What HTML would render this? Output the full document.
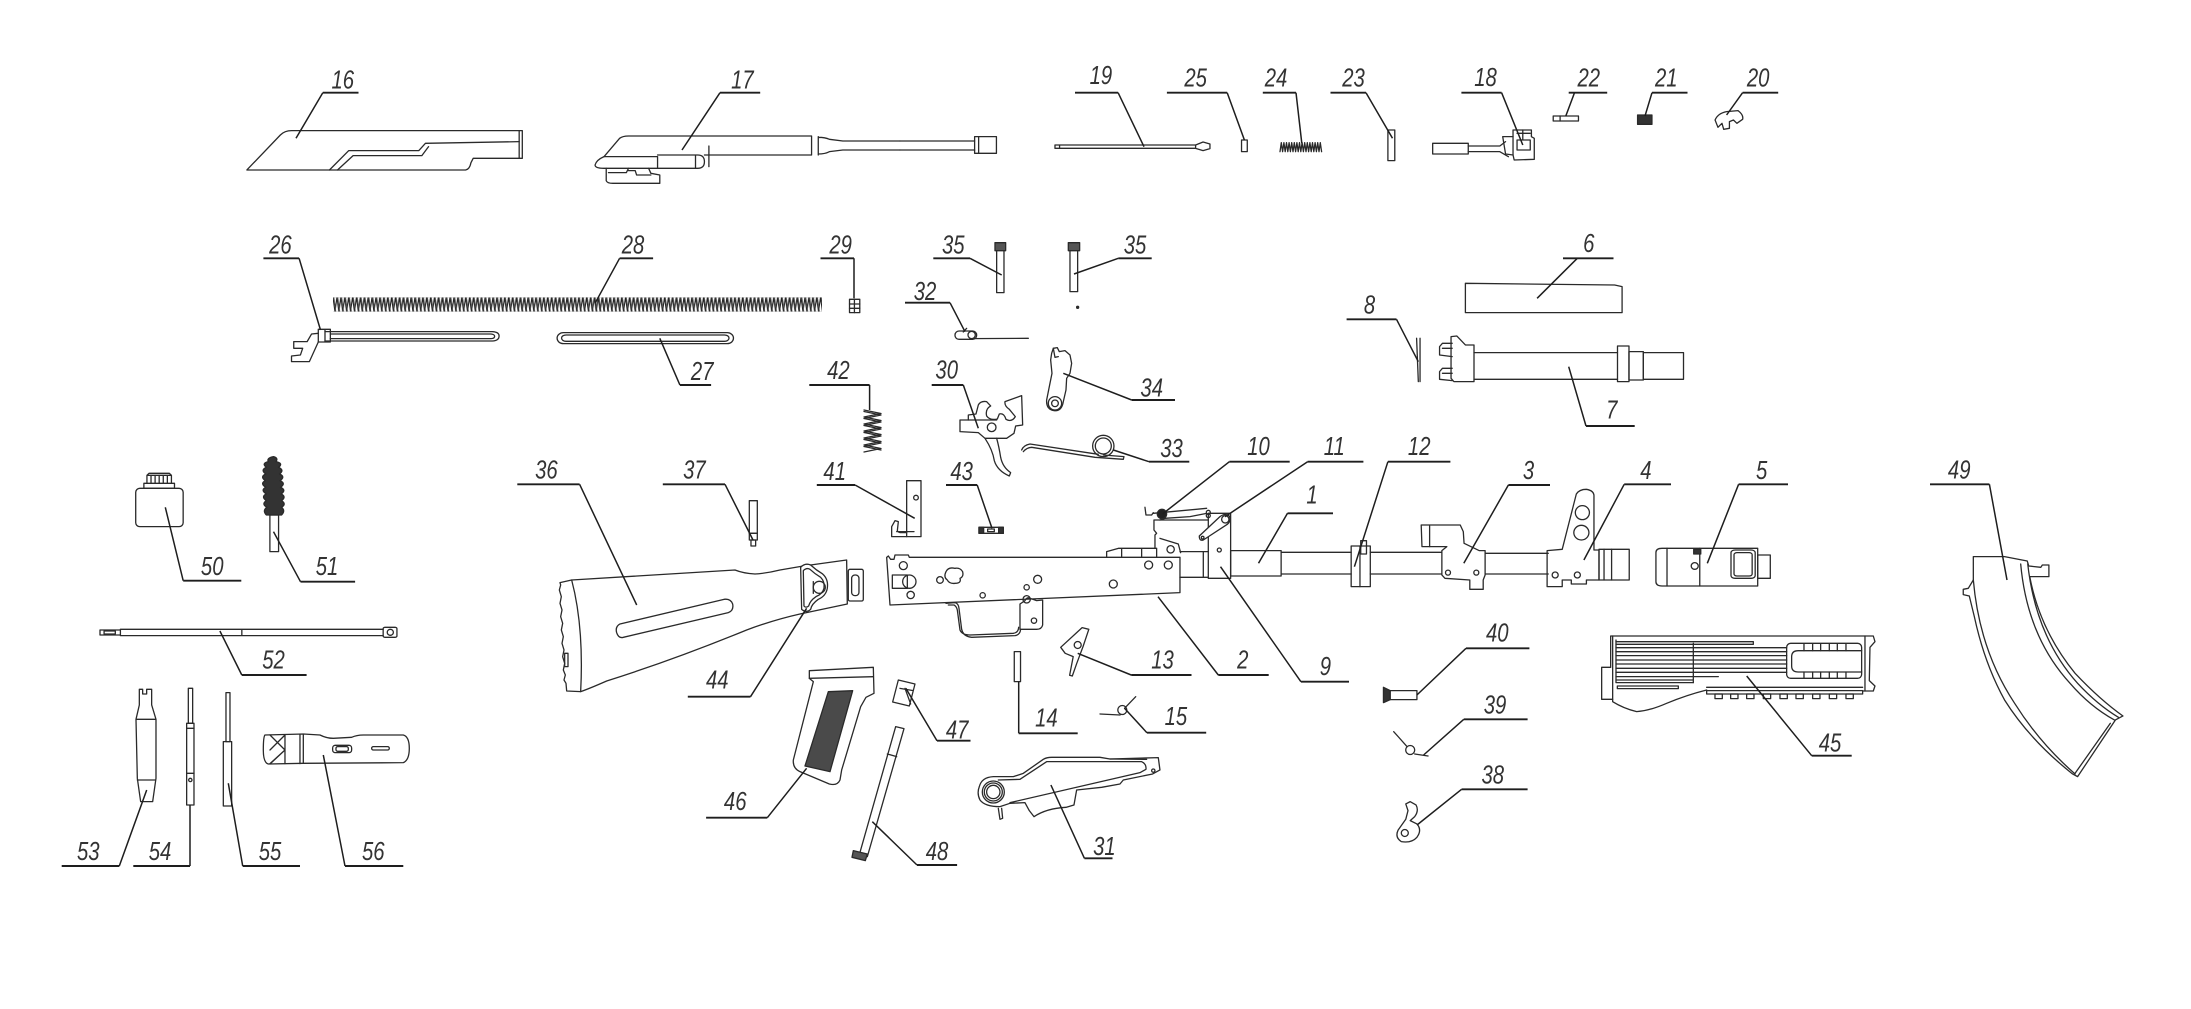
<!DOCTYPE html>
<html><head><meta charset="utf-8"><style>
html,body{margin:0;padding:0;background:#fff;}
svg{display:block;}
.p{fill:none;stroke:#2a2a2a;stroke-width:1.3px;stroke-linejoin:round;stroke-linecap:round;}
.p *{vector-effect:non-scaling-stroke;}
.ld{fill:none;stroke:#1e1e1e;stroke-width:1.5px;}
.u{fill:none;stroke:#1e1e1e;stroke-width:1.9px;}
.t text{font-family:"Liberation Sans",sans-serif;font-style:italic;font-size:26px;fill:#333;text-anchor:middle;}
</style></head><body>
<svg width="2191" height="1009" viewBox="0 0 2191 1009" xmlns="http://www.w3.org/2000/svg">
<defs>
<pattern id="coil" x="333" y="297.3" width="3.9" height="14.4" patternUnits="userSpaceOnUse">
<path d="M0,0 L1.95,14.4 L3.9,0" fill="none" stroke="#222" stroke-width="1.1"/>
<path d="M0.9,0 L2.85,14.4" fill="none" stroke="#444" stroke-width="0.8"/>
</pattern>
</defs>
<rect width="2191" height="1009" fill="#fff"/>

<g class="p" transform="matrix(0.4464,0,0,0.3333,200,40)">
<path d="M105,390 L180,285 Q190,272 205,272 L722,272 L722,355 L612,355 L607,368 Q604,388 595,390 Z"/>
<path d="M715,272 L715,355"/>
<path d="M290,390 L333,332 L490,332 L505,310 L715,305"/>
<path d="M308,390 L343,347 L497,347 L512,320"/>
<path d="M905,350 L940,295 Q947,288 960,288 L1370,288 L1370,345 L1130,345"/>
<path d="M905,350 L1025,350 L1025,385 L905,385 Q885,385 885,375 Q888,360 905,350 Z"/>
<path d="M1025,345 L1115,345 Q1130,345 1130,365 Q1130,385 1115,385 L1025,385 M1110,345 L1110,385"/>
<path d="M910,385 L910,422 Q912,430 925,430 L1030,430 L1030,405 L1010,400 L1005,385"/>
<path d="M915,398 L955,398 L960,385 M960,392 L975,392 L978,405 L1010,405"/>
<path d="M1140,318 L1140,380"/>
<path d="M1385,290 L1385,345 M1385,292 Q1400,292 1410,298 L1440,303 L1568,303 M1385,342 Q1400,342 1410,335 L1440,330 L1568,330"/>
<path d="M280,875 L655,875 Q670,876 670,888 Q670,902 655,903 L280,903"/>
<path d="M292,882 L652,882 Q660,883 660,889 Q660,896 652,896 L292,896"/>
<path d="M265,868 L292,868 L292,906 L265,906 Z M280,868 L280,906"/>
<path d="M265,880 L250,882 L240,905 L210,905 L210,925 L230,925 L225,945 L205,948 L205,965 L245,965 L265,906"/>
<rect x="800" y="878" width="395" height="33" rx="14" ry="16"/>
<rect x="810" y="885" width="375" height="19" rx="10" ry="9"/>
<rect x="1455" y="778" width="23" height="40"/>
<path d="M1455,792 L1478,792 M1455,805 L1478,805 M1466,778 L1466,818"/>
</g>

<g class="p" transform="matrix(0.574,0,0,0.3333,900,40)">
<path d="M0,303 L130,303 M0,330 L130,330"/>
<rect x="130" y="290" width="38" height="50"/>
<path d="M137,290 L137,340"/>
<path d="M270,315 L515,315 L528,306 L540,312 L540,326 L528,332 L515,325 L270,325 Z M278,315 L278,325 M515,315 L515,325"/>
<rect x="595" y="300" width="10" height="35"/>
<rect x="850" y="270" width="12" height="92"/>
<rect x="928" y="310" width="62" height="32"/>
<path d="M990,318 L1045,318 L1055,305 M990,335 L1045,335 L1060,350"/>
<path d="M1050,290 L1068,290 L1068,270 L1100,270 L1100,290 L1105,295 L1105,358 L1070,360 L1068,345 L1055,342 Z"/>
<path d="M1068,290 L1068,345 M1075,280 L1098,280 M1075,300 L1098,300 L1098,330 L1075,330 Z M1085,270 L1085,300"/>
<rect x="1138" y="228" width="44" height="15"/>
<path d="M1150,228 L1150,243"/>
<rect x="1285" y="225" width="25" height="28" fill="#333"/>
<path d="M1425,262 L1420,240 Q1425,220 1440,215 L1460,212 Q1470,225 1468,238 L1458,250 L1452,240 L1445,245 L1445,265 L1435,268 L1432,250 Z"/>
<path d="M985,730 L1245,735 L1258,740 L1258,818 L985,818 Z"/>
<path d="M900,895 L903,1025 M906,895 L906,1025"/>
<path d="M1000,938 L1250,938 M1000,1018 L1250,1018"/>
<rect x="1250" y="918" width="20" height="107"/>
<rect x="1270" y="935" width="25" height="85"/>
<rect x="1295" y="938" width="70" height="80"/>
<path d="M960,890 L970,888 L985,915 L1000,915 L1000,1025 L965,1025 L960,1015 Z"/>
<path d="M962,910 L945,910 L940,920 L940,945 L962,950 M962,985 L945,985 L940,995 L940,1018 L962,1022 M945,925 L962,925 M945,1000 L962,1000"/>
</g>

<g class="p" transform="matrix(0.3333,0,0,0.3333,850,220)">
<rect x="440" y="90" width="22" height="128"/>
<rect x="435" y="68" width="32" height="24" fill="#555"/>
<rect x="660" y="90" width="23" height="125"/>
<rect x="655" y="68" width="34" height="24" fill="#555"/>
<circle cx="683" cy="262" r="3" fill="#333"/>
<rect x="315" y="333" width="65" height="25" rx="12"/>
<circle cx="365" cy="345" r="11"/>
<path d="M360,356 L535,355 M340,336 L350,325"/>
<path d="M610,385 L622,383 L628,395 L645,392 L660,405 L665,430 L660,460 L650,475 L648,510 L640,545 Q635,575 612,572 Q588,568 590,540 L598,500 L606,460 L602,420 L605,400 Z"/>
<circle cx="615" cy="550" r="20"/><circle cx="615" cy="550" r="10"/>
<path d="M610,385 L615,412 L625,410"/>
<path d="M330,600 L355,600 L355,585 L378,582 L385,555 Q392,542 410,545 L422,558 Q405,568 410,588 Q420,602 442,597 L448,582 Q462,578 468,598 Q485,608 496,590 L478,568 Q463,558 465,545 L515,527 L518,615 L497,618 L492,640 L470,655 L405,655 L385,638 L330,635 Z"/>
<path d="M405,655 Q428,690 433,722 Q442,752 478,768 L482,758 Q458,742 452,712 Q447,680 440,655"/>
<circle cx="425" cy="622" r="13"/>
<path d="M355,600 L440,600"/>
<path d="M515,690 Q520,676 540,672 L745,703 M520,695 Q530,683 545,682 L735,712 L820,718 L822,710 L760,705"/>
<circle cx="760" cy="678" r="32"/><circle cx="760" cy="678" r="24"/>
</g>

<g class="p" transform="matrix(0.3333,0,0,0.3333,860,470)">
<rect x="140" y="32" width="43" height="168"/>
<circle cx="168" cy="83" r="7"/>
<path d="M140,200 L95,200 L95,170 L105,152 L115,155 L112,182 Q115,188 125,188 L140,188 M110,185 L162,185"/>
<rect x="357" y="172" width="73" height="18"/>
<rect x="357" y="172" width="14" height="18" fill="#333"/>
<rect x="416" y="172" width="14" height="18" fill="#333"/>
<rect x="383" y="177" width="20" height="8"/>
<path d="M80,262 L85,258 L92,268 L102,268 L105,255 L145,255 L148,262 L960,262 L960,368 L90,405 Z"/>
<path d="M740,262 L740,245 L775,235 L890,235 L890,262 M785,235 L785,262 M845,235 L845,262"/>
<path d="M885,235 L885,195 L890,190 L882,180 L882,150 L1045,150 M900,205 L955,222 L962,248"/>
<path d="M855,112 L858,135 L875,135 L880,128 M880,130 L1040,115 M900,150 L915,145 L990,140 L1040,130"/>
<circle cx="906" cy="132" r="14" fill="#222"/>
<circle cx="1045" cy="127" r="6"/><circle cx="1045" cy="137" r="6"/>
<circle cx="130" cy="287" r="12"/>
<rect x="97" y="315" width="45" height="40"/>
<circle cx="148" cy="335" r="20"/>
<circle cx="152" cy="375" r="11"/>
<circle cx="240" cy="330" r="10"/>
<path d="M258,305 Q265,290 285,295 Q300,292 308,305 Q312,320 300,325 Q305,340 285,340 Q268,342 262,330 Q250,322 258,305 Z"/>
<circle cx="533" cy="328" r="12"/><circle cx="500" cy="352" r="8"/><circle cx="368" cy="376" r="8"/>
<circle cx="760" cy="342" r="12"/><circle cx="866" cy="285" r="12"/><circle cx="925" cy="285" r="12"/><circle cx="932" cy="238" r="11"/>
<path d="M258,400 L285,398 Q295,400 297,415 L305,478 Q310,500 335,502 L465,497 Q480,495 482,478 M265,405 L282,405 Q290,410 292,420 L300,480 Q306,495 330,495 L460,490 Q475,488 476,472"/>
<path d="M480,475 L480,402 L495,392 Q500,380 510,385 L530,392 L548,390 L548,465 Q545,478 530,478 L480,478 Z"/>
<circle cx="522" cy="452" r="8"/><circle cx="500" cy="388" r="11"/>
<path d="M960,245 L1045,245 M960,322 L1045,322 M1030,245 L1030,322"/>
<rect x="1045" y="130" width="67" height="195"/>
<circle cx="1078" cy="240" r="6"/>
<path d="M1018,198 L1080,140 Q1095,128 1108,138 Q1115,152 1102,163 L1030,210 Q1018,214 1018,198 Z" fill="#fff"/>
<circle cx="1096" cy="148" r="11"/><circle cx="1028" cy="203" r="4"/>
</g>

<g class="p" transform="matrix(0.4464,0,0,0.3333,850,400)">
<path d="M472,742 L520,683 L535,688 L522,740 L508,790 L498,828 L492,826 L500,770 L482,760 L472,742 Z"/>
<rect x="368" y="755" width="14" height="90"/>
<path d="M560,942 L605,945 M615,925 L640,890"/>
<rect x="1210" y="872" width="60" height="27"/>
<path d="M1195,862 L1210,872 L1210,899 L1195,908 Z" fill="#333"/>
<path d="M1218,995 L1248,1040 M1265,1062 L1295,1068"/>
<path d="M1255,1205 L1268,1215 Q1275,1232 1265,1250 L1255,1262 L1270,1272 Q1282,1290 1270,1312 Q1258,1330 1235,1325 Q1220,1312 1228,1290 L1245,1258 L1250,1232 L1245,1212 Z"/>
</g>
<g class="p">
<circle cx="1077.7" cy="645" r="3.5"/>
<circle cx="1122.3" cy="710" r="4.5"/>
<circle cx="1410.2" cy="750" r="4.5"/>
<circle cx="1404.8" cy="833" r="3.5"/>
</g>

<g class="p" transform="matrix(0.3827,0,0,0.3333,1200,500)">
<rect x="80" y="152" width="132" height="76"/>
<path d="M212,157 L395,157 M212,222 L395,222"/>
<rect x="395" y="138" width="50" height="122"/>
<path d="M418,138 L418,260"/>
<rect x="420" y="122" width="15" height="40"/>
<path d="M445,157 L632,157 M445,222 L632,222"/>
<path d="M632,152 L632,225 L640,235 L705,240 L705,268 L740,268 L740,240 L745,225 L745,152 L730,152 L690,130 L688,95 L680,75 L578,75 L580,140 L645,140 L632,152 Z"/>
<path d="M600,78 L600,140"/>
<ellipse cx="648" cy="218" rx="6.5" ry="7.5"/><ellipse cx="722" cy="218" rx="6.5" ry="7.5"/>
<path d="M745,160 L910,160 M745,222 L910,222"/>
</g>

<g class="p" transform="matrix(0.5038,0,0,0.3333,1400,430)">
<path d="M292,362 L322,358 L350,192 Q356,178 370,178 Q386,182 385,200 L385,360 L395,360 L395,450 L370,450 L370,462 L340,462 L340,450 L322,450 L322,470 L292,470 Z"/>
<ellipse cx="362" cy="248" rx="14" ry="21"/><ellipse cx="360" cy="308" rx="15" ry="22"/>
<ellipse cx="308" cy="435" rx="6" ry="9"/><ellipse cx="352" cy="435" rx="6" ry="9"/>
<rect x="395" y="358" width="60" height="92"/>
<path d="M405,358 L405,450 M420,358 L420,450"/>
<path d="M520,355 L710,355 L710,468 L520,468 Q508,468 508,455 L508,368 Q508,355 520,355 Z"/>
<path d="M595,355 L595,468 M530,355 L530,468"/>
<rect x="710" y="375" width="25" height="70"/>
<rect x="657" y="360" width="48" height="85" rx="8"/>
<rect x="663" y="368" width="36" height="70" rx="6"/>
<rect x="583" y="358" width="14" height="14" fill="#333"/>
<ellipse cx="585" cy="408" rx="7" ry="10"/>
<path d="M1138,380 L1200,380 L1245,393 L1248,408 L1272,412 L1275,405 L1288,405 L1288,440 L1250,440 Q1270,600 1340,730 Q1390,810 1435,858 L1420,870 L1345,1040 L1335,1032 Q1250,930 1200,810 Q1160,700 1140,560 L1130,498 L1118,494 L1118,478 L1128,475 L1138,450 Z"/>
<path d="M1232,402 Q1245,620 1330,760 Q1370,830 1418,870"/>
<path d="M1246,402 Q1262,620 1345,760 Q1385,825 1426,862"/>
<path d="M1410,880 L1340,1030"/>
<path d="M1138,450 Q1150,660 1220,820 Q1270,940 1340,1032"/>
</g>

<g class="p" transform="matrix(0.3333,0,0,0.3333,540,480)">
<path d="M95,300 L585,270 Q610,280 645,282 Q680,280 720,270 L790,258 L920,240 L922,372 L780,402 Q700,420 620,450 Q400,540 200,603 Q150,625 122,635 L80,633 L78,610 L72,600 L76,585 L70,570 L74,550 L68,530 L72,510 L66,490 L70,470 L64,450 L68,430 L62,410 L66,390 L60,370 L64,350 L58,330 L62,315 L60,308 Z"/>
<path d="M95,300 Q132,440 122,635"/>
<path d="M250,472 L565,398 Q582,392 578,372 Q572,355 552,358 L240,432 Q225,440 230,458 Q236,476 250,472 Z"/>
<path d="M782,262 Q795,248 812,255 Q828,270 848,282 Q866,298 862,325 Q858,348 835,358 Q815,372 812,388 Q800,400 785,388 Z" fill="#fff"/>
<path d="M790,272 Q800,262 810,268 Q825,282 842,292 Q855,305 852,325 Q848,342 828,350 Q810,362 806,378 Q798,385 792,378 Z"/>
<ellipse cx="838" cy="322" rx="18" ry="18"/>
<path d="M820,305 L820,340"/>
<rect x="925" y="268" width="45" height="95" rx="5"/>
<rect x="935" y="285" width="22" height="62" rx="10"/>
<rect x="74" y="520" width="10" height="40"/>
<rect x="628" y="62" width="24" height="98"/>
<rect x="628" y="160" width="24" height="20"/>
<rect x="633" y="180" width="14" height="18"/>
</g>

<g class="p" transform="matrix(0.3333,0,0,0.3333,780,660)">
<path d="M88,32 L280,22 L282,100 L258,112 L242,140 L185,330 L180,360 Q172,378 148,372 L60,335 Q38,325 40,300 L100,65 L88,55 Z"/>
<path d="M88,55 L280,50"/>
<path d="M145,95 L218,92 L150,335 L75,318 Z" fill="#4a4a4a"/>
<path d="M355,60 L405,72 L388,138 L338,126 Z M360,85 L400,92 M375,85 L392,132"/>
<path d="M347,200 L372,206 L262,590 L238,584 Z M322,282 L350,290"/>
<path d="M220,572 L262,582 L256,602 L216,592 Z" fill="#555"/>
<path d="M598,380 Q605,352 640,350 L700,350 L730,340 L790,298 Q800,292 815,292 L960,292 L990,297 L1135,293 L1140,330 L1118,342 L1030,360 L1020,372 L965,382 L890,390 L882,435 L858,442 Q800,445 762,470 L748,452 L735,428 L690,430 L660,440 Q615,440 600,420 Q590,400 598,380 Z"/>
<path d="M655,360 L720,358 L800,305 L1085,305 Q1100,312 1098,328 L1080,338 L690,428"/>
<path d="M990,297 L1100,298"/>
<circle cx="640" cy="396" r="20"/><circle cx="640" cy="396" r="27"/><circle cx="640" cy="396" r="33"/>
<circle cx="1120" cy="332" r="5"/>
<path d="M655,445 L660,478 L668,475 L665,445"/>
</g>

<g class="p" transform="matrix(0.3333,0,0,0.3333,1580,610)">
<path d="M92,78 L880,78 L885,95 L870,112 L868,212 L885,228 L880,243 L848,243 L848,252 L380,252 L380,240 Q320,255 260,280 Q210,302 170,305 Q130,295 98,275 L98,268 L65,268 L65,172 L92,172 Z"/>
<path d="M98,78 L98,268 M855,78 L855,243 M108,90 L108,218 L340,218"/>
<path d="M108,95 L520,95 L520,103 L108,103 M108,113 L620,113 M108,125 L620,125 M108,137 L620,137 M108,150 L620,150 M108,162 L620,162 M108,175 L620,175 M108,187 L620,187 M108,200 L415,200 M108,210 L340,210 M340,100 L340,218"/>
<rect x="620" y="100" width="225" height="105" rx="12"/>
<path d="M845,122 L655,122 Q635,122 635,140 L635,168 Q635,186 655,186 L845,186"/>
<path d="M672,102 L672,122 M698,102 L698,122 M722,102 L722,122 M748,102 L748,122 M772,102 L772,122 M798,102 L798,122 M672,186 L672,204 M698,186 L698,204 M722,186 L722,204 M748,186 L748,204 M772,186 L772,204 M798,186 L798,204"/>
<path d="M380,232 L848,232 M380,242 L848,242"/>
<rect x="405" y="252" width="22" height="14"/><rect x="452" y="252" width="22" height="14"/><rect x="500" y="252" width="22" height="14"/>
<rect x="550" y="252" width="22" height="14"/><rect x="600" y="252" width="22" height="14"/><rect x="648" y="252" width="22" height="14"/>
<rect x="698" y="252" width="22" height="14"/><rect x="748" y="252" width="22" height="14"/><rect x="798" y="252" width="22" height="14"/>
<rect x="112" y="228" width="183" height="8"/>
</g>

<g class="p" transform="matrix(0.3333,0,0,0.3333,50,640)">
<path d="M268,148 L278,148 L278,162 L290,162 L290,148 L305,148 L305,195 L318,238 L318,415 L308,485 L272,485 L262,415 L258,238 L268,195 Z M258,238 L318,238 M262,420 L316,420"/>
<rect x="415" y="145" width="13" height="105"/>
<rect x="410" y="250" width="22" height="245"/>
<path d="M410,265 L432,265 M410,400 L432,400"/>
<circle cx="421" cy="420" r="5"/>
<rect x="528" y="158" width="12" height="147"/>
<rect x="520" y="305" width="25" height="193"/>
<path d="M645,285 L760,282 L810,285 Q830,295 850,295 L905,292 Q920,285 940,285 L1060,285 Q1078,290 1078,325 Q1078,360 1060,368 L760,370 L655,372 Q640,368 640,330 Q640,290 645,285 Z"/>
<path d="M705,284 L705,371 M750,283 L750,371 M760,283 L760,370 M660,285 L705,330 L660,371 M660,330 L705,285 M660,372 L705,330"/>
<rect x="848" y="316" width="57" height="22" rx="8"/>
<rect x="858" y="320" width="37" height="14" rx="5"/>
<rect x="965" y="320" width="53" height="10" rx="5"/>
</g>

<g class="p" transform="matrix(0.5102,0,0,0.3333,100,430)">
<rect x="70" y="175" width="93" height="115" rx="8" ry="12"/>
<rect x="86" y="160" width="60" height="15"/>
<path d="M92,160 L92,136 L140,136 L140,160 M100,136 L100,160 M108,136 L108,160 M116,136 L116,160 M124,136 L124,160 M132,136 L132,160 M92,136 L96,130 L136,130 L140,136"/>
<path d="M340,80 Q350,84 345,95 Q360,100 350,112 Q362,120 352,132 Q364,140 353,152 Q365,160 354,172 Q366,180 355,192 Q366,200 356,212 Q366,222 356,232 Q364,242 356,255 L326,255 Q318,242 327,232 Q316,222 326,212 Q315,200 326,192 Q314,180 325,172 Q313,160 324,152 Q313,140 325,132 Q314,120 326,112 Q316,100 330,95 Q326,84 340,80 Z" fill="#333"/>
<rect x="333" y="255" width="17" height="110"/>
<path d="M40,598 L555,598 M40,617 L555,617 M278,598 L278,617"/>
<rect x="0" y="600" width="40" height="15"/>
<rect x="8" y="603" width="22" height="9"/>
<rect x="555" y="592" width="27" height="30" rx="4"/>
<ellipse cx="569" cy="607" rx="6" ry="9"/>
</g>

<rect x="333" y="297.3" width="489" height="14.4" fill="url(#coil)"/>
<g class="p">
<path d="M1280,151.7 l1.3,-9 1.3,9 1.3,-9 1.3,9 1.3,-9 1.3,9 1.3,-9 1.3,9 1.3,-9 1.3,9 1.3,-9 1.3,9 1.3,-9 1.3,9 1.3,-9 1.3,9 1.3,-9 1.3,9 1.3,-9 1.3,9 1.3,-9 1.3,9 1.3,-9 1.3,9 1.3,-9 1.3,9 1.3,-9 1.3,9 1.3,-9 1.3,9 1.3,-9 1.3,9"/>
<path d="M864,410 L881,413.5 L864,417 L881,420.5 L864,424 L881,427.5 L864,431 L881,434.5 L864,438 L881,441.5 L864,445 L881,448.5 L864,452"/>
<path d="M864,411.5 L881,415 L864,418.5 L881,422 L864,425.5 L881,429 L864,432.5 L881,436 L864,439.5 L881,443 L864,446.5 L881,450"/>
</g>

<g class="u">
<path d="M322.8,92.7H358.5 M720,92.7H760.2 M1075,92.7H1118.1 M1166.9,92.7H1227.2 M1262.8,92.7H1296 M1330.5,92.7H1366 M1461.4,92.7H1501.6 M1568.7,92.7H1607.2 M1652,92.7H1687.5 M1742.6,92.7H1778.2"/>
<path d="M263.4,258.3H299.1 M619.6,258.3H653.1 M820.5,258.3H854 M933.3,258.3H970 M1118.3,258.3H1151.7 M1563,258.3H1613.5"/>
<path d="M905,302.7H950 M1346.6,319.3H1396.5 M679.9,385H711.1 M809.3,385H869.6 M931.7,385H963.3 M1131.7,400H1175 M1586,426H1634.7"/>
<path d="M1149,461.7H1189.3 M1229.4,461.7H1289.7 M1307.6,461.7H1363.4 M1387.9,461.7H1450.4 M1287.5,513.3H1333 M1508.4,485H1550 M1624.2,484.3H1671 M1738.6,484.3H1788 M1930,484.3H1989.4"/>
<path d="M946,485H977.2 M816.8,485H855.1 M517.3,484.3H579.6 M662.8,484.3H725 M183.2,580.7H241.3 M300.5,581.7H355.1 M241.8,675H306.6 M687.8,696.7H750.5"/>
<path d="M1218.3,675H1268.7 M1300.9,681.7H1349 M1131.2,675H1191.5 M1466,648.3H1529.4 M1018.7,733.3H1077.7 M1146.9,732.7H1206.2 M1463.8,719.3H1527.6 M937,740.7H970.5 M1811.7,755.7H1851.7 M1461.6,789.3H1527.6"/>
<path d="M706.1,817.7H767.3 M1084.4,858.3H1112.5 M917,865H957.1 M61.7,866H119.3 M133.3,866H190 M242.7,866H300 M345,866H403.3"/>
</g>

<g class="ld">
<path d="M322.8,92.7L296,138.3 M720,92.7L682,150 M1118.1,92.7L1144,146.7 M1227.2,92.7L1244.4,140 M1296,92.7L1301.8,143.3 M1366,92.7L1392.5,138.3 M1501.6,92.7L1522.8,145 M1574.5,92.7L1565.8,116 M1652,92.7L1645,116 M1742.6,92.7L1726.6,115"/>
<path d="M299.1,258.3L320.5,330 M619.6,258.3L595,303.3 M854,258.3L854,298.3 M970,258.3L1001.7,275 M1118.3,258.3L1074,274 M1577.3,258.3L1537.1,298.3"/>
<path d="M950,302.7L965,331.7 M1396.5,319.3L1418.3,361.7 M679.9,385L659.8,338.3 M869.6,385L869.6,410 M963.3,385L978.3,428.3 M1131.7,400L1063.3,373.3 M1586,426L1568.7,366.7"/>
<path d="M1149,461.7L1113.4,450 M1229.4,461.7L1162.5,514 M1307.6,461.7L1225,516.7 M1387.9,461.7L1354.4,566.7 M1287.5,513.3L1258.5,563.3 M1508.4,485L1463.8,563.3 M1624.2,484.3L1583.9,560 M1738.6,484.3L1707.3,563.3 M1989.4,484.3L2007,580"/>
<path d="M977.2,485L992,528.3 M855.1,485L914.7,518.3 M579.6,484.3L636.7,605 M725,484.3L753,540 M183.2,580.7L165.3,507.3 M300.5,581.7L273.5,531.7 M241.8,675L219.9,631 M750.5,696.7L806.6,608.3"/>
<path d="M1218.3,675L1158,596.7 M1300.9,681.7L1220.5,566.7 M1131.2,675L1077.7,653.3 M1466,648.3L1416.9,695 M1018.7,733.3L1018.7,681.7 M1146.9,732.7L1124.5,708.3 M1463.8,719.3L1423.6,755 M937,740.7L905.8,688.3 M1811.7,755.7L1746.7,676 M1461.6,789.3L1417,825"/>
<path d="M767.3,817.7L806.6,768.3 M1084.4,858.3L1050.9,785 M917,865L872.3,821.7 M119.3,866L146.7,790 M190,866L190,805 M242.7,866L228.3,783.3 M345,866L323.3,755"/>
</g>

<g class="t">
<text transform="translate(342.8,88.3) scale(.78,1)">16</text>
<text transform="translate(742.4,88.3) scale(.78,1)">17</text>
<text transform="translate(1100.9,84) scale(.78,1)">19</text>
<text transform="translate(1195.6,86.7) scale(.78,1)">25</text>
<text transform="translate(1276,86.7) scale(.78,1)">24</text>
<text transform="translate(1353.5,86.7) scale(.78,1)">23</text>
<text transform="translate(1485.5,86) scale(.78,1)">18</text>
<text transform="translate(1588.8,86.7) scale(.78,1)">22</text>
<text transform="translate(1666.3,86.7) scale(.78,1)">21</text>
<text transform="translate(1758.1,86.7) scale(.78,1)">20</text>
<text transform="translate(280.4,253.3) scale(.78,1)">26</text>
<text transform="translate(633,253.3) scale(.78,1)">28</text>
<text transform="translate(840.6,253.3) scale(.78,1)">29</text>
<text transform="translate(953.3,253.3) scale(.78,1)">35</text>
<text transform="translate(1135,253.3) scale(.78,1)">35</text>
<text transform="translate(1588.8,252) scale(.78,1)">6</text>
<text transform="translate(925,300) scale(.78,1)">32</text>
<text transform="translate(1369.5,313.3) scale(.78,1)">8</text>
<text transform="translate(702.2,380) scale(.78,1)">27</text>
<text transform="translate(838.4,379) scale(.78,1)">42</text>
<text transform="translate(1151.7,396.7) scale(.78,1)">34</text>
<text transform="translate(946.7,378.3) scale(.78,1)">30</text>
<text transform="translate(1611.8,418.3) scale(.78,1)">7</text>
<text transform="translate(1171.5,457) scale(.78,1)">33</text>
<text transform="translate(1258.5,455) scale(.78,1)">10</text>
<text transform="translate(1334.3,455) scale(.78,1)">11</text>
<text transform="translate(1419.2,455) scale(.78,1)">12</text>
<text transform="translate(1312,503.3) scale(.78,1)">1</text>
<text transform="translate(1528.5,479) scale(.78,1)">3</text>
<text transform="translate(1645.9,479) scale(.78,1)">4</text>
<text transform="translate(1761.7,479) scale(.78,1)">5</text>
<text transform="translate(1959.2,478.3) scale(.78,1)">49</text>
<text transform="translate(961.6,480) scale(.78,1)">43</text>
<text transform="translate(834.7,480) scale(.78,1)">41</text>
<text transform="translate(546.4,478.3) scale(.78,1)">36</text>
<text transform="translate(694.4,478.3) scale(.78,1)">37</text>
<text transform="translate(212.2,575) scale(.78,1)">50</text>
<text transform="translate(327,575) scale(.78,1)">51</text>
<text transform="translate(273.5,668.3) scale(.78,1)">52</text>
<text transform="translate(717.3,688.3) scale(.78,1)">44</text>
<text transform="translate(1242.8,668.3) scale(.78,1)">2</text>
<text transform="translate(1325.4,675) scale(.78,1)">9</text>
<text transform="translate(1162.5,668.3) scale(.78,1)">13</text>
<text transform="translate(1497.3,641.7) scale(.78,1)">40</text>
<text transform="translate(1046.4,726.7) scale(.78,1)">14</text>
<text transform="translate(1175.9,725) scale(.78,1)">15</text>
<text transform="translate(1495,713.3) scale(.78,1)">39</text>
<text transform="translate(957.1,738.3) scale(.78,1)">47</text>
<text transform="translate(1830,751.7) scale(.78,1)">45</text>
<text transform="translate(1492.8,783.3) scale(.78,1)">38</text>
<text transform="translate(735.2,810) scale(.78,1)">46</text>
<text transform="translate(1104.4,855) scale(.78,1)">31</text>
<text transform="translate(937,860) scale(.78,1)">48</text>
<text transform="translate(88.3,860) scale(.78,1)">53</text>
<text transform="translate(160,860) scale(.78,1)">54</text>
<text transform="translate(270,860) scale(.78,1)">55</text>
<text transform="translate(373.3,860) scale(.78,1)">56</text>
</g>
</svg>
</body></html>
